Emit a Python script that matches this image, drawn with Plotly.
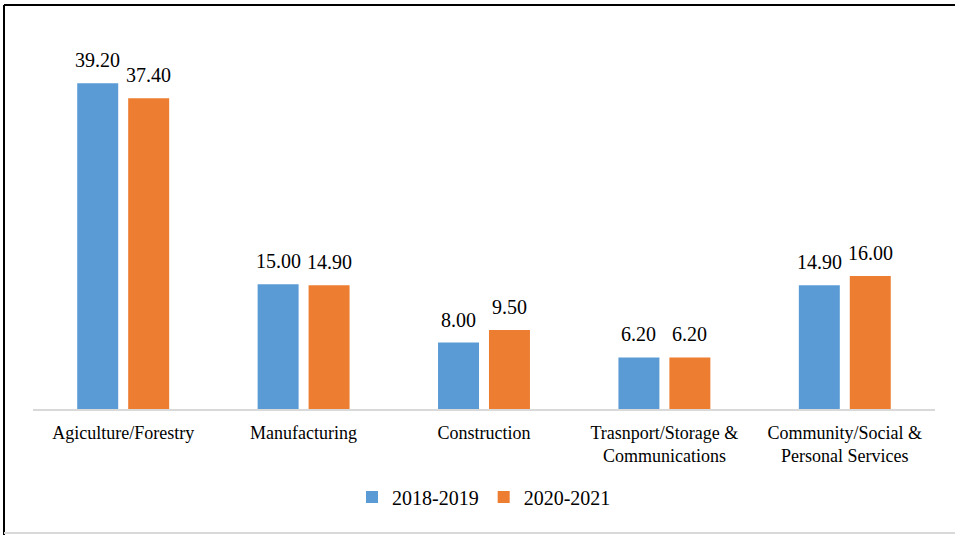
import plotly.graph_objects as go

categories = ["Agiculture/Forestry", "Manufacturing", "Construction",
              "Trasnport/Storage &<br>Communications", "Community/Social &<br>Personal Services"]
series_names = ["2018-2019", "2020-2021"]
values_2018_2019 = [39.20, 15.00, 8.00, 6.20, 14.90]
values_2020_2021 = [37.40, 14.90, 9.50, 6.20, 16.00]
colors = ["#5B9BD5", "#ED7D31"]

W, H = 955, 535
ML, MR, MT, MB = 33, 20, 35, 126
PW, PH = W - ML - MR, H - MT - MB


def px_x(px):
    return (px - ML) / PW


def px_y(py):
    return (H - MB - py) / PH


font_family = "Liberation Serif"
BAR_GAP = 0.435
GROUP_GAP = 0.196
slot_px = PW / len(categories) * (1 - BAR_GAP) / 2

fig = go.Figure()
annotations = []
for i, (name, vals, col) in enumerate(zip(series_names, [values_2018_2019, values_2020_2021], colors)):
    fig.add_trace(go.Bar(
        name=name, x=categories, y=vals, marker_color=col, marker_line_width=0,
    ))
    # value labels above each bar
    for cat, v in zip(categories, vals):
        annotations.append(dict(
            x=cat, y=v, xref="x", yref="y", text=f"{v:.2f}", showarrow=False,
            xshift=(i - 0.5) * slot_px, yshift=10, yanchor="bottom",
            font=dict(size=20, family=font_family, color="#000000"),
        ))

fig.update_layout(
    width=W, height=H,
    margin=dict(l=ML, r=MR, t=MT, b=MB),
    paper_bgcolor="white", plot_bgcolor="white",
    barmode="group", bargap=BAR_GAP, bargroupgap=GROUP_GAP,
    font=dict(family=font_family, color="#000000"),
    showlegend=True,
    legend=dict(orientation="h", x=0.5, xanchor="center", y=px_y(497), yanchor="middle",
                font=dict(size=20, family=font_family, color="#000000"), itemwidth=30),
    xaxis=dict(showline=True, linecolor="#D9D9D9", linewidth=2, ticks="",
               ticklabelstandoff=6,
               tickfont=dict(size=18, family=font_family, color="#000000"), showgrid=False),
    yaxis=dict(range=[0, 45], visible=False, showgrid=False),
    annotations=annotations,
    shapes=[
        dict(type="line", xref="paper", yref="paper", x0=px_x(4), x1=px_x(4),
             y0=px_y(5), y1=px_y(535), line=dict(color="#000000", width=2)),
        dict(type="line", xref="paper", yref="paper", x0=px_x(4), x1=px_x(955),
             y0=px_y(5), y1=px_y(5), line=dict(color="#000000", width=2)),
        dict(type="line", xref="paper", yref="paper", x0=px_x(4), x1=px_x(955),
             y0=px_y(533), y1=px_y(533), line=dict(color="#D9D9D9", width=2)),
    ],
)

fig.write_html("out.html")
